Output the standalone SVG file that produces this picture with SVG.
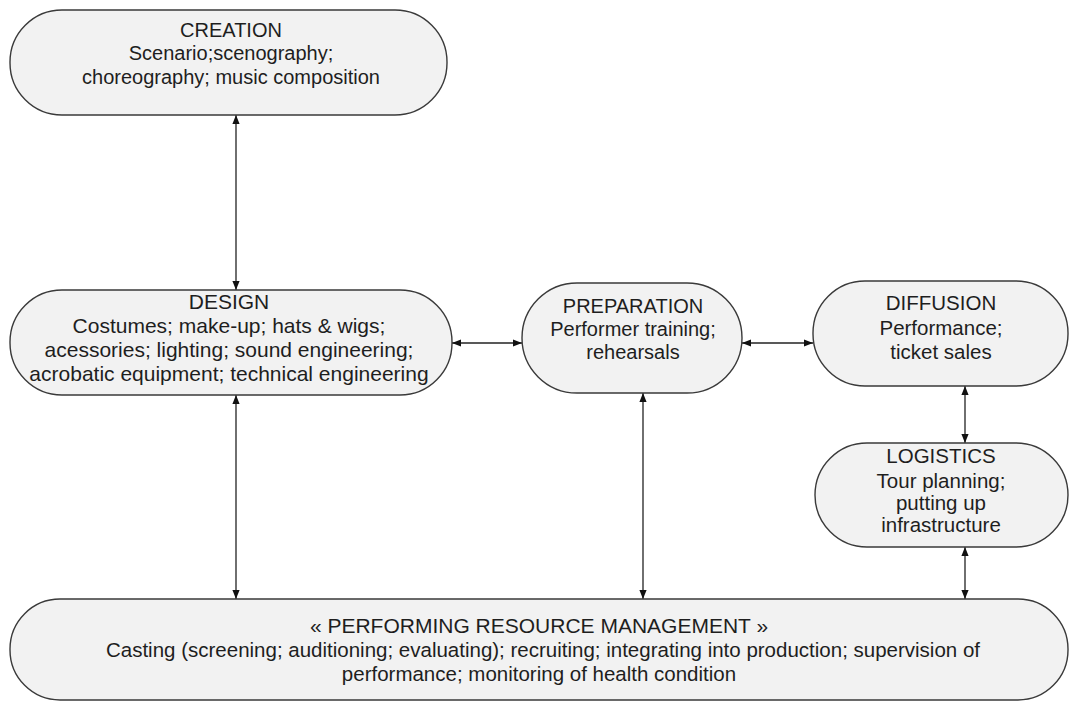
<svg xmlns="http://www.w3.org/2000/svg" width="1078" height="702" viewBox="0 0 1078 702">
<style>
.box{fill:#f2f2f2;stroke:#3a3a3a;stroke-width:1.4}
.t{font-family:"Liberation Sans",Arial,sans-serif;font-size:20px;fill:#1e1e1e;text-anchor:middle}
.d{font-size:21px}
.m{font-size:20.5px}
.c{stroke:#222;stroke-width:1.3;fill:none;marker-start:url(#a);marker-end:url(#a)}
</style>
<defs>
<marker id="a" viewBox="0 0 10 10" refX="10" refY="5" markerWidth="9" markerHeight="9" markerUnits="userSpaceOnUse" orient="auto-start-reverse">
<path d="M0,1 L10,5 L0,9 Z" fill="#111"/>
</marker>
</defs>
<rect width="1078" height="702" fill="#ffffff"/>
<g id="connectors">
<line class="c" x1="236" y1="115" x2="236" y2="290"/>
<line class="c" x1="236" y1="395" x2="236" y2="599"/>
<line class="c" x1="452" y1="343" x2="522" y2="343"/>
<line class="c" x1="742" y1="343" x2="813" y2="343"/>
<line class="c" x1="643" y1="393" x2="643" y2="599"/>
<line class="c" x1="965" y1="386" x2="965" y2="443"/>
<line class="c" x1="965" y1="547" x2="965" y2="599"/>
</g>
<g id="creation">
<rect class="box" x="10" y="10" width="437" height="105" rx="52" ry="52"/>
<text class="t" x="231" y="37">CREATION</text>
<text class="t" x="231" y="60">Scenario;scenography;</text>
<text class="t" x="231" y="84">choreography; music composition</text>
</g>
<g id="design">
<rect class="box" x="10" y="290" width="442" height="105" rx="52" ry="52"/>
<text class="t d" x="229" y="309">DESIGN</text>
<text class="t d" x="229" y="333">Costumes; make-up; hats &amp; wigs;</text>
<text class="t d" x="229" y="357">acessories; lighting; sound engineering;</text>
<text class="t d" x="229" y="381">acrobatic equipment; technical engineering</text>
</g>
<g id="preparation">
<rect class="box" x="522" y="283" width="220" height="110" rx="55" ry="55"/>
<text class="t" x="633" y="313">PREPARATION</text>
<text class="t" x="633" y="336">Performer training;</text>
<text class="t" x="633" y="359">rehearsals</text>
</g>
<g id="diffusion">
<rect class="box" x="813" y="281" width="255" height="105" rx="52" ry="52"/>
<text class="t m" x="941" y="310">DIFFUSION</text>
<text class="t m" x="941" y="335">Performance;</text>
<text class="t m" x="941" y="359">ticket sales</text>
</g>
<g id="logistics">
<rect class="box" x="815" y="443" width="253" height="104" rx="52" ry="52"/>
<text class="t m" x="941" y="463">LOGISTICS</text>
<text class="t m" x="941" y="488">Tour planning;</text>
<text class="t m" x="941" y="510">putting up</text>
<text class="t m" x="941" y="532">infrastructure</text>
</g>
<g id="prm">
<rect class="box" x="10" y="599" width="1058" height="101" rx="50" ry="50"/>
<text class="t" style="font-size:21px" x="539" y="633">« PERFORMING RESOURCE MANAGEMENT »</text>
<text class="t m" x="543" y="657">Casting (screening; auditioning; evaluating); recruiting; integrating into production; supervision of</text>
<text class="t m" x="539" y="681">performance; monitoring of health condition</text>
</g>
</svg>
